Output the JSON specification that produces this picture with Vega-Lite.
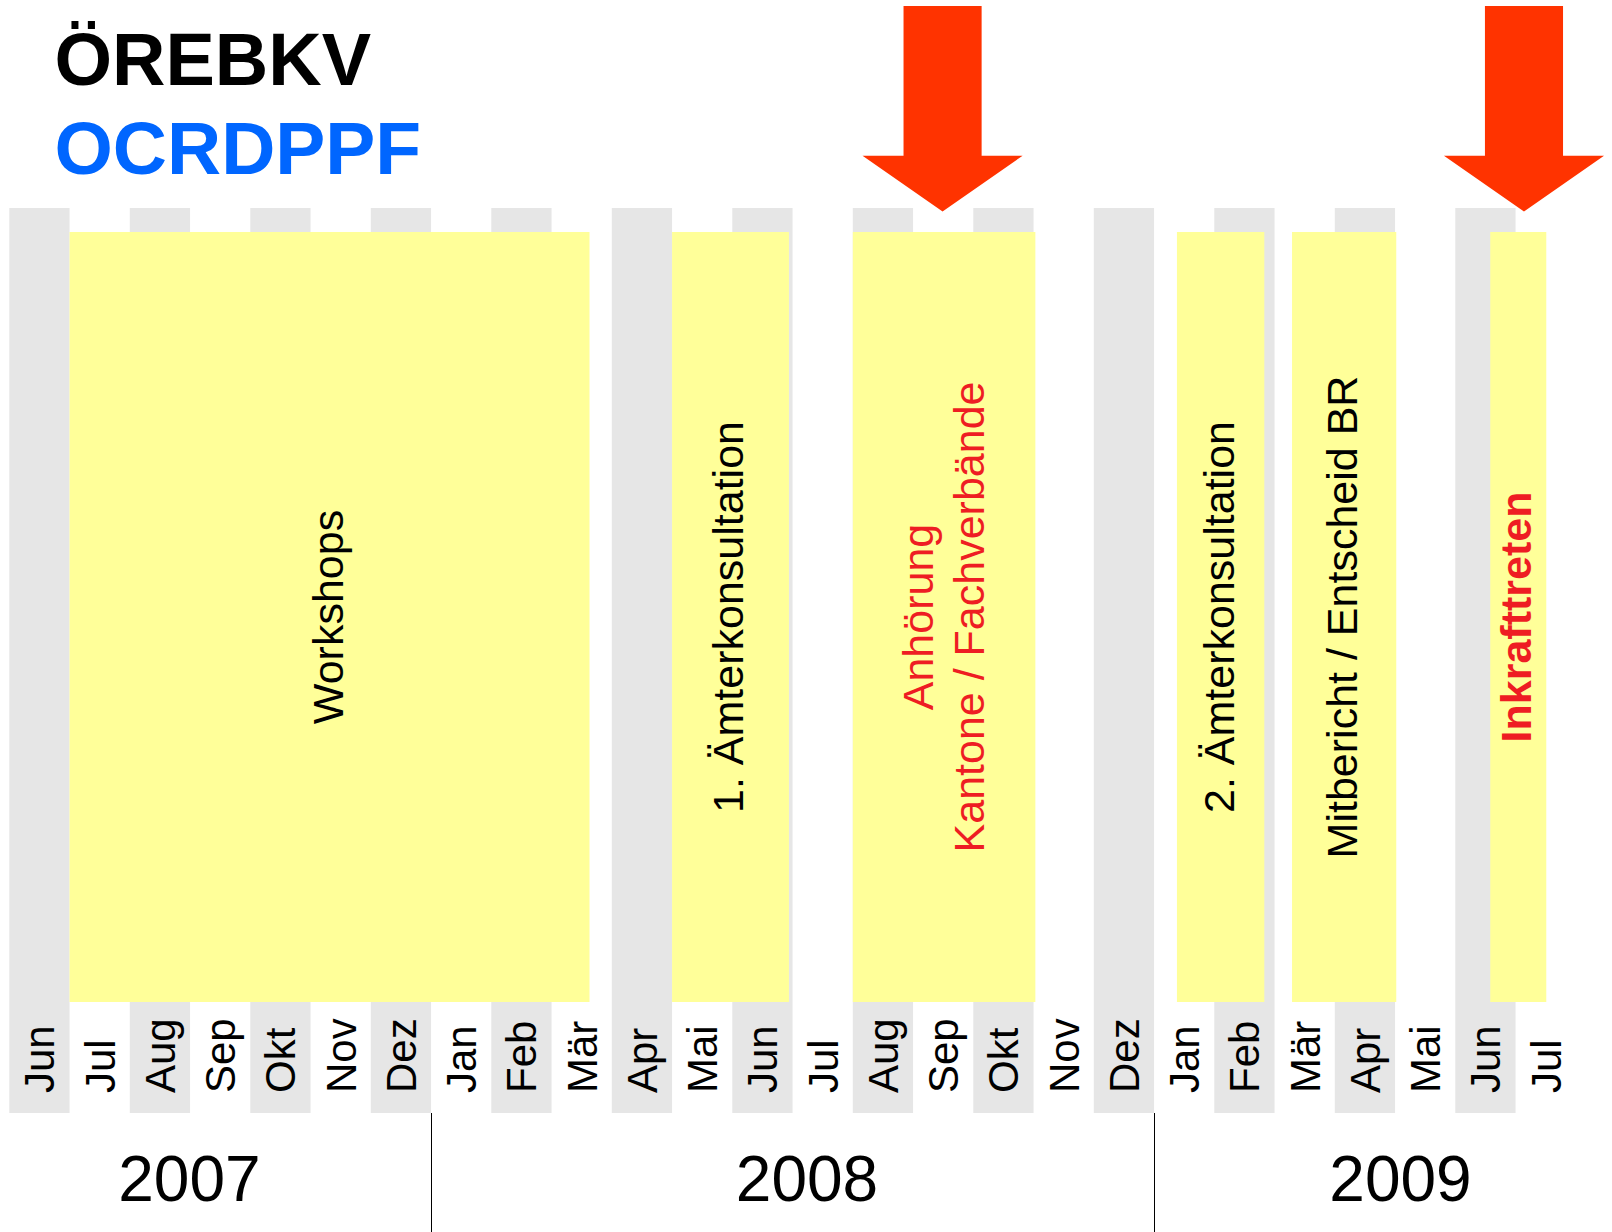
{
  "$schema": "https://vega.github.io/schema/vega-lite/v6.json",
  "width": 1612,
  "height": 1232,
  "padding": 0,
  "autosize": {"type": "none"},
  "background": "white",
  "config": {"view": {"stroke": null}, "font": "Liberation Sans"},
  "datasets": {
    "months": [
      {"month": "Jun", "year": 2007, "start": 0, "end": 1, "shaded": true},
      {"month": "Jul", "year": 2007, "start": 1, "end": 2, "shaded": false},
      {"month": "Aug", "year": 2007, "start": 2, "end": 3, "shaded": true},
      {"month": "Sep", "year": 2007, "start": 3, "end": 4, "shaded": false},
      {"month": "Okt", "year": 2007, "start": 4, "end": 5, "shaded": true},
      {"month": "Nov", "year": 2007, "start": 5, "end": 6, "shaded": false},
      {"month": "Dez", "year": 2007, "start": 6, "end": 7, "shaded": true},
      {"month": "Jan", "year": 2008, "start": 7, "end": 8, "shaded": false},
      {"month": "Feb", "year": 2008, "start": 8, "end": 9, "shaded": true},
      {"month": "Mär", "year": 2008, "start": 9, "end": 10, "shaded": false},
      {"month": "Apr", "year": 2008, "start": 10, "end": 11, "shaded": true},
      {"month": "Mai", "year": 2008, "start": 11, "end": 12, "shaded": false},
      {"month": "Jun", "year": 2008, "start": 12, "end": 13, "shaded": true},
      {"month": "Jul", "year": 2008, "start": 13, "end": 14, "shaded": false},
      {"month": "Aug", "year": 2008, "start": 14, "end": 15, "shaded": true},
      {"month": "Sep", "year": 2008, "start": 15, "end": 16, "shaded": false},
      {"month": "Okt", "year": 2008, "start": 16, "end": 17, "shaded": true},
      {"month": "Nov", "year": 2008, "start": 17, "end": 18, "shaded": false},
      {"month": "Dez", "year": 2008, "start": 18, "end": 19, "shaded": true},
      {"month": "Jan", "year": 2009, "start": 19, "end": 20, "shaded": false},
      {"month": "Feb", "year": 2009, "start": 20, "end": 21, "shaded": true},
      {"month": "Mär", "year": 2009, "start": 21, "end": 22, "shaded": false},
      {"month": "Apr", "year": 2009, "start": 22, "end": 23, "shaded": true},
      {"month": "Mai", "year": 2009, "start": 23, "end": 24, "shaded": false},
      {"month": "Jun", "year": 2009, "start": 24, "end": 25, "shaded": true},
      {"month": "Jul", "year": 2009, "start": 25, "end": 26, "shaded": false}
    ],
    "phases": [
      {"phase": "Workshops", "label": "Workshops", "kind": "intern", "start": 1.0, "end": 9.63, "mid": 5.315},
      {"phase": "1. Ämterkonsultation", "label": "1. Ämterkonsultation", "kind": "intern", "start": 11.0, "end": 12.94, "mid": 11.97},
      {"phase": "Anhörung", "label": ["Anhörung", "Kantone / Fachverbände"], "kind": "extern", "start": 14.0, "end": 17.03, "mid": 15.515},
      {"phase": "2. Ämterkonsultation", "label": "2. Ämterkonsultation", "kind": "intern", "start": 19.38, "end": 20.83, "mid": 20.105},
      {"phase": "Mitbericht / Entscheid BR", "label": "Mitbericht / Entscheid BR", "kind": "intern", "start": 21.29, "end": 23.02, "mid": 22.155},
      {"phase": "Inkrafttreten", "label": "Inkrafttreten", "kind": "milestone", "start": 24.58, "end": 25.51, "mid": 25.045}
    ],
    "milestones": [
      {"event": "Anhörung", "month": 15.49},
      {"event": "Inkrafttreten", "month": 25.14}
    ],
    "years": [
      {"year": "2007", "start": 0, "end": 7, "mid": 2.99},
      {"year": "2008", "start": 7, "end": 19, "mid": 13.24},
      {"year": "2009", "start": 19, "end": 26, "mid": 23.09}
    ]
  },
  "layer": [
    {
      "data": {"name": "months"},
      "transform": [{"filter": "datum.shaded"}],
      "mark": {"type": "rect", "color": "#e6e6e6"},
      "encoding": {
        "x": {"field": "start", "type": "quantitative", "scale": {"domain": [-0.1544, 26.6008], "nice": false, "zero": false}, "axis": null},
        "x2": {"field": "end"},
        "y": {"datum": 208, "type": "quantitative", "scale": {"domain": [0, 1232], "reverse": true, "nice": false, "zero": false}, "axis": null},
        "y2": {"datum": 1113}
      }
    },
    {
      "data": {"name": "phases"},
      "mark": {"type": "rect", "color": "#ffff99"},
      "encoding": {
        "x": {"field": "start", "type": "quantitative"},
        "x2": {"field": "end"},
        "y": {"datum": 232, "type": "quantitative"},
        "y2": {"datum": 1002}
      }
    },
    {
      "data": {"name": "months"},
      "mark": {"type": "text", "angle": 270, "align": "left", "baseline": "middle", "fontSize": 42, "color": "black", "dy": 32},
      "encoding": {
        "x": {"field": "start", "type": "quantitative"},
        "y": {"datum": 1093, "type": "quantitative"},
        "text": {"field": "month"}
      }
    },
    {
      "data": {"name": "phases"},
      "transform": [{"filter": "datum.kind == 'intern'"}],
      "mark": {"type": "text", "angle": 270, "align": "center", "baseline": "middle", "fontSize": 43},
      "encoding": {
        "x": {"field": "mid", "type": "quantitative"},
        "y": {"datum": 617, "type": "quantitative"},
        "text": {"field": "label"},
        "color": {"field": "kind", "type": "nominal", "scale": {"domain": ["intern", "extern", "milestone"], "range": ["#000000", "#ee1d23", "#ee1d23"]}, "legend": null}
      }
    },
    {
      "data": {"name": "phases"},
      "transform": [{"filter": "datum.kind == 'extern'"}],
      "mark": {"type": "text", "angle": 270, "align": "center", "baseline": "middle", "fontSize": 43, "lineHeight": 51, "dy": -24},
      "encoding": {
        "x": {"field": "mid", "type": "quantitative"},
        "y": {"datum": 617, "type": "quantitative"},
        "text": {"field": "label"},
        "color": {"field": "kind", "type": "nominal", "legend": null}
      }
    },
    {
      "data": {"name": "phases"},
      "transform": [{"filter": "datum.kind == 'milestone'"}],
      "mark": {"type": "text", "angle": 270, "align": "center", "baseline": "middle", "fontSize": 43, "fontWeight": "bold"},
      "encoding": {
        "x": {"field": "mid", "type": "quantitative"},
        "y": {"datum": 617, "type": "quantitative"},
        "text": {"field": "label"},
        "color": {"field": "kind", "type": "nominal", "legend": null}
      }
    },
    {
      "data": {"name": "milestones"},
      "mark": {"type": "point", "shape": "M -0.38 -1 L 0.38 -1 L 0.38 0.457 L 0.779 0.457 L 0 1 L -0.779 0.457 L -0.38 0.457 Z", "filled": true, "fill": "#ff3300", "stroke": null, "opacity": 1, "size": 42230},
      "encoding": {
        "x": {"field": "month", "type": "quantitative"},
        "y": {"datum": 108.75, "type": "quantitative"}
      }
    },
    {
      "data": {"name": "years"},
      "transform": [{"filter": "datum.start > 0"}],
      "mark": {"type": "rule", "color": "black", "strokeWidth": 1, "xOffset": 0.45},
      "encoding": {
        "x": {"field": "start", "type": "quantitative"},
        "y": {"datum": 1113, "type": "quantitative"},
        "y2": {"datum": 1232}
      }
    },
    {
      "data": {"name": "years"},
      "mark": {"type": "text", "align": "center", "baseline": "alphabetic", "fontSize": 64, "color": "black"},
      "encoding": {
        "x": {"field": "mid", "type": "quantitative"},
        "y": {"datum": 1201, "type": "quantitative"},
        "text": {"field": "year"}
      }
    },
    {
      "data": {"values": [{"name": "ÖREBKV"}]},
      "mark": {"type": "text", "align": "left", "baseline": "alphabetic", "fontSize": 74, "fontWeight": "bold", "color": "#000000"},
      "encoding": {
        "x": {"datum": 0.75, "type": "quantitative"},
        "y": {"datum": 85, "type": "quantitative"},
        "text": {"field": "name"}
      }
    },
    {
      "data": {"values": [{"name": "OCRDPPF"}]},
      "mark": {"type": "text", "align": "left", "baseline": "alphabetic", "fontSize": 75, "fontWeight": "bold", "color": "#0066ff"},
      "encoding": {
        "x": {"datum": 0.75, "type": "quantitative"},
        "y": {"datum": 174, "type": "quantitative"},
        "text": {"field": "name"}
      }
    }
  ]
}
